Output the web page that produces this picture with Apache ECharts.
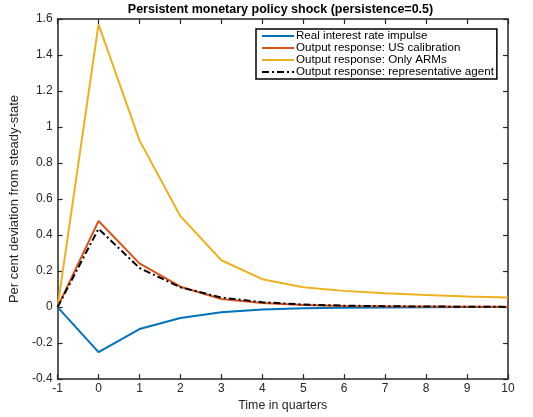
<!DOCTYPE html>
<html>
<head>
<meta charset="utf-8">
<script src="https://cdn.jsdelivr.net/npm/echarts@6/dist/echarts.min.js"></script>
<style>html,body{margin:0;padding:0;background:#fff}#c{width:533px;height:417px}</style>
</head>
<body>
<div id="c"></div>
<script>
var quarters = [-1, 0, 1, 2, 3, 4, 5, 6, 7, 8, 9, 10];
var realRate = [0, -0.25, -0.122, -0.061, -0.029, -0.014, -0.007, -0.004, -0.002, -0.001, 0, 0];
var usCalib = [0, 0.478, 0.243, 0.113, 0.045, 0.022, 0.012, 0.006, 0.004, 0.003, 0.002, 0.002];
var onlyArms = [0, 1.57, 0.926, 0.505, 0.26, 0.155, 0.11, 0.09, 0.077, 0.067, 0.059, 0.053];
var repAgent = [0, 0.435, 0.217, 0.11, 0.053, 0.027, 0.014, 0.008, 0.005, 0.003, 0.002, 0.001];
var seriesNames = ['Real interest rate impulse', 'Output response: US calibration', 'Output response: Only ARMs', 'Output response: representative agent'];
var titleText = 'Persistent monetary policy shock (persistence=0.5)';

function pairs(v) { return quarters.map(function (q, i) { return [q, v[i]]; }); }

var FONT = 'Liberation Sans';
var AX = '#262626';
var chart = echarts.init(document.getElementById('c'), null, {renderer: 'canvas'});
var baseAxisLine = {show: true, onZero: false, lineStyle: {color: AX, width: 1.5}};
var tick = {show: true, inside: true, length: 5, lineStyle: {color: AX, width: 1.2}};
chart.setOption({
  animation: false,
  backgroundColor: '#fff',
  textStyle: {fontFamily: FONT},
  graphic: [{
    type: 'text', x: 280.5, y: 3,
    style: {text: titleText, textAlign: 'center', font: 'bold 12.5px "Liberation Sans"', fill: '#000'}
  }],
  grid: {left: 53, right: 25, top: 19, bottom: 33},
  legend: {
    orient: 'vertical', left: 256, top: 29,
    data: seriesNames,
    backgroundColor: '#fff', borderColor: '#000', borderWidth: 1.5,
    padding: [1, 3, 1, 5], itemGap: 0, itemWidth: 32, itemHeight: 11.5,
    itemStyle: {opacity: 0},
    textStyle: {fontFamily: FONT, fontSize: 11.6, color: '#000', padding: [0, 0, 0, -3]}
  },
  xAxis: [{
    type: 'value', min: -1, max: 10, interval: 1, position: 'bottom',
    axisLine: baseAxisLine, axisTick: tick, splitLine: {show: false},
    axisLabel: {color: AX, fontSize: 12, margin: 4, fontFamily: FONT},
    name: 'Time in quarters', nameLocation: 'middle', nameGap: 20,
    nameTextStyle: {color: AX, fontSize: 12.4, fontFamily: FONT}
  }, {
    type: 'value', min: -1, max: 10, interval: 1, position: 'top',
    axisLine: baseAxisLine, axisTick: tick, splitLine: {show: false}, axisLabel: {show: false}
  }],
  yAxis: [{
    type: 'value', min: -0.4, max: 1.6, interval: 0.2, position: 'left',
    axisLine: baseAxisLine, axisTick: tick, splitLine: {show: false},
    axisLabel: {color: AX, fontSize: 12, margin: 5, fontFamily: FONT,
      formatter: function (v) { return String(Math.round(v * 10) / 10); }},
    name: 'Per cent deviation from steady-state', nameLocation: 'middle', nameGap: 28,
    nameTextStyle: {color: AX, fontSize: 13, fontFamily: FONT}
  }, {
    type: 'value', min: -0.4, max: 1.6, interval: 0.2, position: 'right',
    axisLine: baseAxisLine, axisTick: tick, splitLine: {show: false}, axisLabel: {show: false}
  }],
  series: [
    {name: seriesNames[0], type: 'line', data: pairs(realRate), showSymbol: false, symbol: 'none',
      lineStyle: {color: '#0072BD', width: 2}, itemStyle: {color: '#0072BD'}},
    {name: seriesNames[1], type: 'line', data: pairs(usCalib), showSymbol: false, symbol: 'none',
      lineStyle: {color: '#D95319', width: 2}, itemStyle: {color: '#D95319'}},
    {name: seriesNames[2], type: 'line', data: pairs(onlyArms), showSymbol: false, symbol: 'none',
      lineStyle: {color: '#EDB120', width: 2}, itemStyle: {color: '#EDB120'}},
    {name: seriesNames[3], type: 'line', data: pairs(repAgent), showSymbol: false, symbol: 'none',
      lineStyle: {color: '#000', width: 2, type: [7, 3, 2, 3]}, itemStyle: {color: '#000'}}
  ]
});
</script>
</body>
</html>
